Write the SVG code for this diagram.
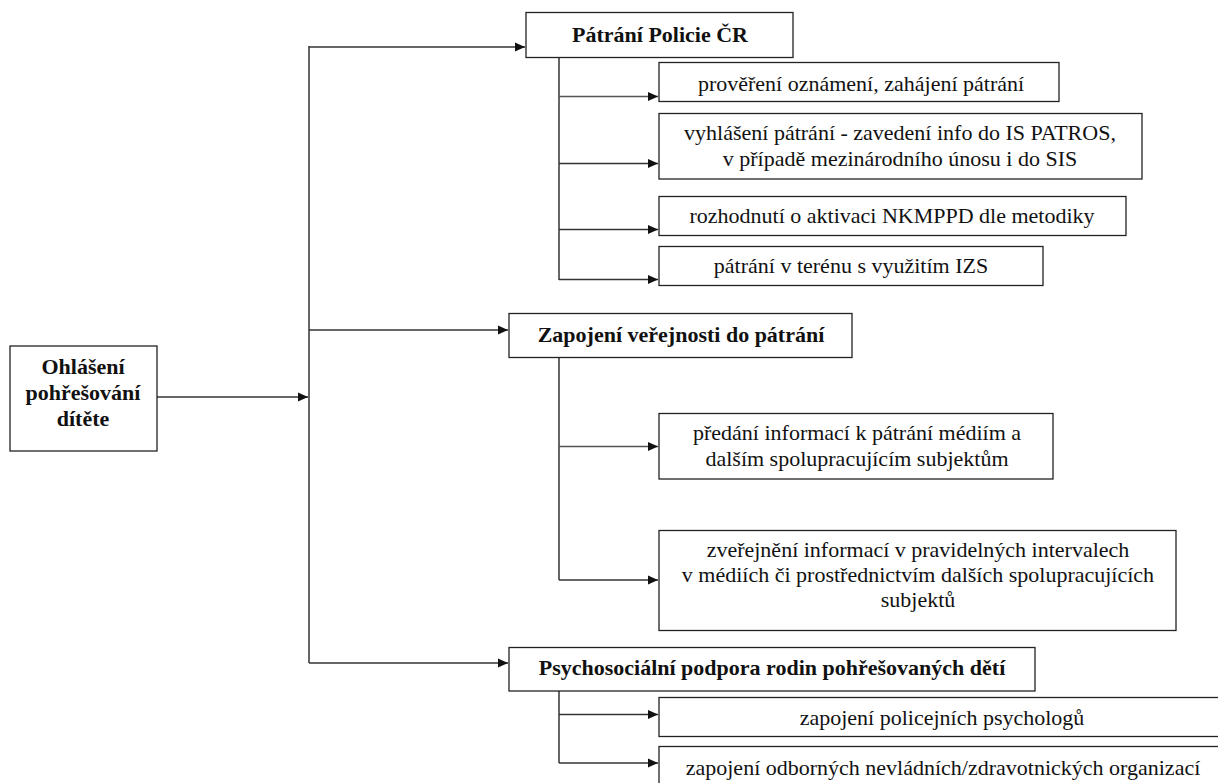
<svg xmlns="http://www.w3.org/2000/svg" width="1218" height="783" viewBox="0 0 1218 783">
<style>
.box{fill:#fff;stroke:#222;stroke-width:1.3}
.t{font-family:'Liberation Serif','Times New Roman',Times,'DejaVu Serif',serif;font-size:22px;fill:#111;text-anchor:middle}
.b{font-weight:bold}
.ln{fill:none;stroke:#333;stroke-width:1.5}
.lg{fill:none;stroke:#555;stroke-width:1.5}
</style>
<defs>
<marker id="ah" markerWidth="10" markerHeight="10" refX="10" refY="5" orient="auto" markerUnits="userSpaceOnUse">
<path d="M0,0.5 L10,5 L0,9.5 Z" fill="#111"/>
</marker>
</defs>
<g id="connectors">
<path class="ln" d="M157,397 H308" marker-end="url(#ah)"/>
<path class="ln" d="M309,46 V663"/>
<path class="ln" d="M309,47 H525" marker-end="url(#ah)"/>
<path class="ln" d="M309,330 H508" marker-end="url(#ah)"/>
<path class="ln" d="M309,663 H508" marker-end="url(#ah)"/>
<path class="ln" d="M559,58 V280"/>
<path class="lg" d="M559,96.5 H658" marker-end="url(#ah)"/>
<path class="ln" d="M559,163.5 H658" marker-end="url(#ah)"/>
<path class="ln" d="M559,229.5 H658" marker-end="url(#ah)"/>
<path class="ln" d="M559,279.5 H658" marker-end="url(#ah)"/>
<path class="ln" d="M559,358 V580"/>
<path class="lg" d="M559,446.5 H658" marker-end="url(#ah)"/>
<path class="ln" d="M559,580 H658" marker-end="url(#ah)"/>
<path class="ln" d="M559,691 V763"/>
<path class="ln" d="M559,714.5 H658" marker-end="url(#ah)"/>
<path class="ln" d="M559,763 H658" marker-end="url(#ah)"/>
</g>
<g id="n-ohlaseni">
<rect class="box" x="10" y="346" width="147" height="105"/>
<text class="t b" x="83" y="374">Ohlášení</text>
<text class="t b" x="83" y="400">pohřešování</text>
<text class="t b" x="83" y="426">dítěte</text>
</g>
<g id="n-patrani">
<rect class="box" x="526" y="12.5" width="267" height="45"/>
<text class="t b" x="660" y="42">Pátrání Policie ČR</text>
</g>
<g id="n-overeni">
<rect class="box" x="659" y="62.5" width="400" height="39"/>
<text class="t" x="861" y="90.5">prověření oznámení, zahájení pátrání</text>
</g>
<g id="n-vyhlaseni">
<rect class="box" x="659" y="113.5" width="483" height="65.5"/>
<text class="t" x="900" y="140">vyhlášení pátrání - zavedení info do IS PATROS,</text>
<text class="t" x="900" y="165.5">v případě mezinárodního únosu i do SIS</text>
</g>
<g id="n-nkmppd">
<rect class="box" x="659" y="196.5" width="467" height="39"/>
<text class="t" x="892" y="223">rozhodnutí o aktivaci NKMPPD dle metodiky</text>
</g>
<g id="n-teren">
<rect class="box" x="659" y="246.5" width="384" height="39"/>
<text class="t" x="851" y="273">pátrání v terénu s využitím IZS</text>
</g>
<g id="n-zapojeni">
<rect class="box" x="509" y="313.5" width="343" height="44"/>
<text class="t b" x="681" y="342">Zapojení veřejnosti do pátrání</text>
</g>
<g id="n-predani">
<rect class="box" x="659" y="413.5" width="394" height="65.5"/>
<text class="t" x="857" y="440">předání informací k pátrání médiím a</text>
<text class="t" x="857" y="465.5">dalším spolupracujícím subjektům</text>
</g>
<g id="n-zverejneni">
<rect class="box" x="659" y="530.5" width="517" height="100"/>
<text class="t" x="918" y="556.5">zveřejnění informací v pravidelných intervalech</text>
<text class="t" x="918" y="581.5">v médiích či prostřednictvím dalších spolupracujících</text>
<text class="t" x="918" y="607">subjektů</text>
</g>
<g id="n-psycho">
<rect class="box" x="509" y="647.5" width="526" height="43.5"/>
<text class="t b" x="772" y="675">Psychosociální podpora rodin pohřešovaných dětí</text>
</g>
<g id="n-psychologove">
<rect class="box" x="659" y="697.5" width="570" height="39"/>
<text class="t" x="942" y="725">zapojení policejních psychologů</text>
</g>
<g id="n-organizace">
<rect class="box" x="659" y="746.5" width="570" height="50"/>
<text class="t" x="943" y="775">zapojení odborných nevládních/zdravotnických organizací</text>
</g>
</svg>
